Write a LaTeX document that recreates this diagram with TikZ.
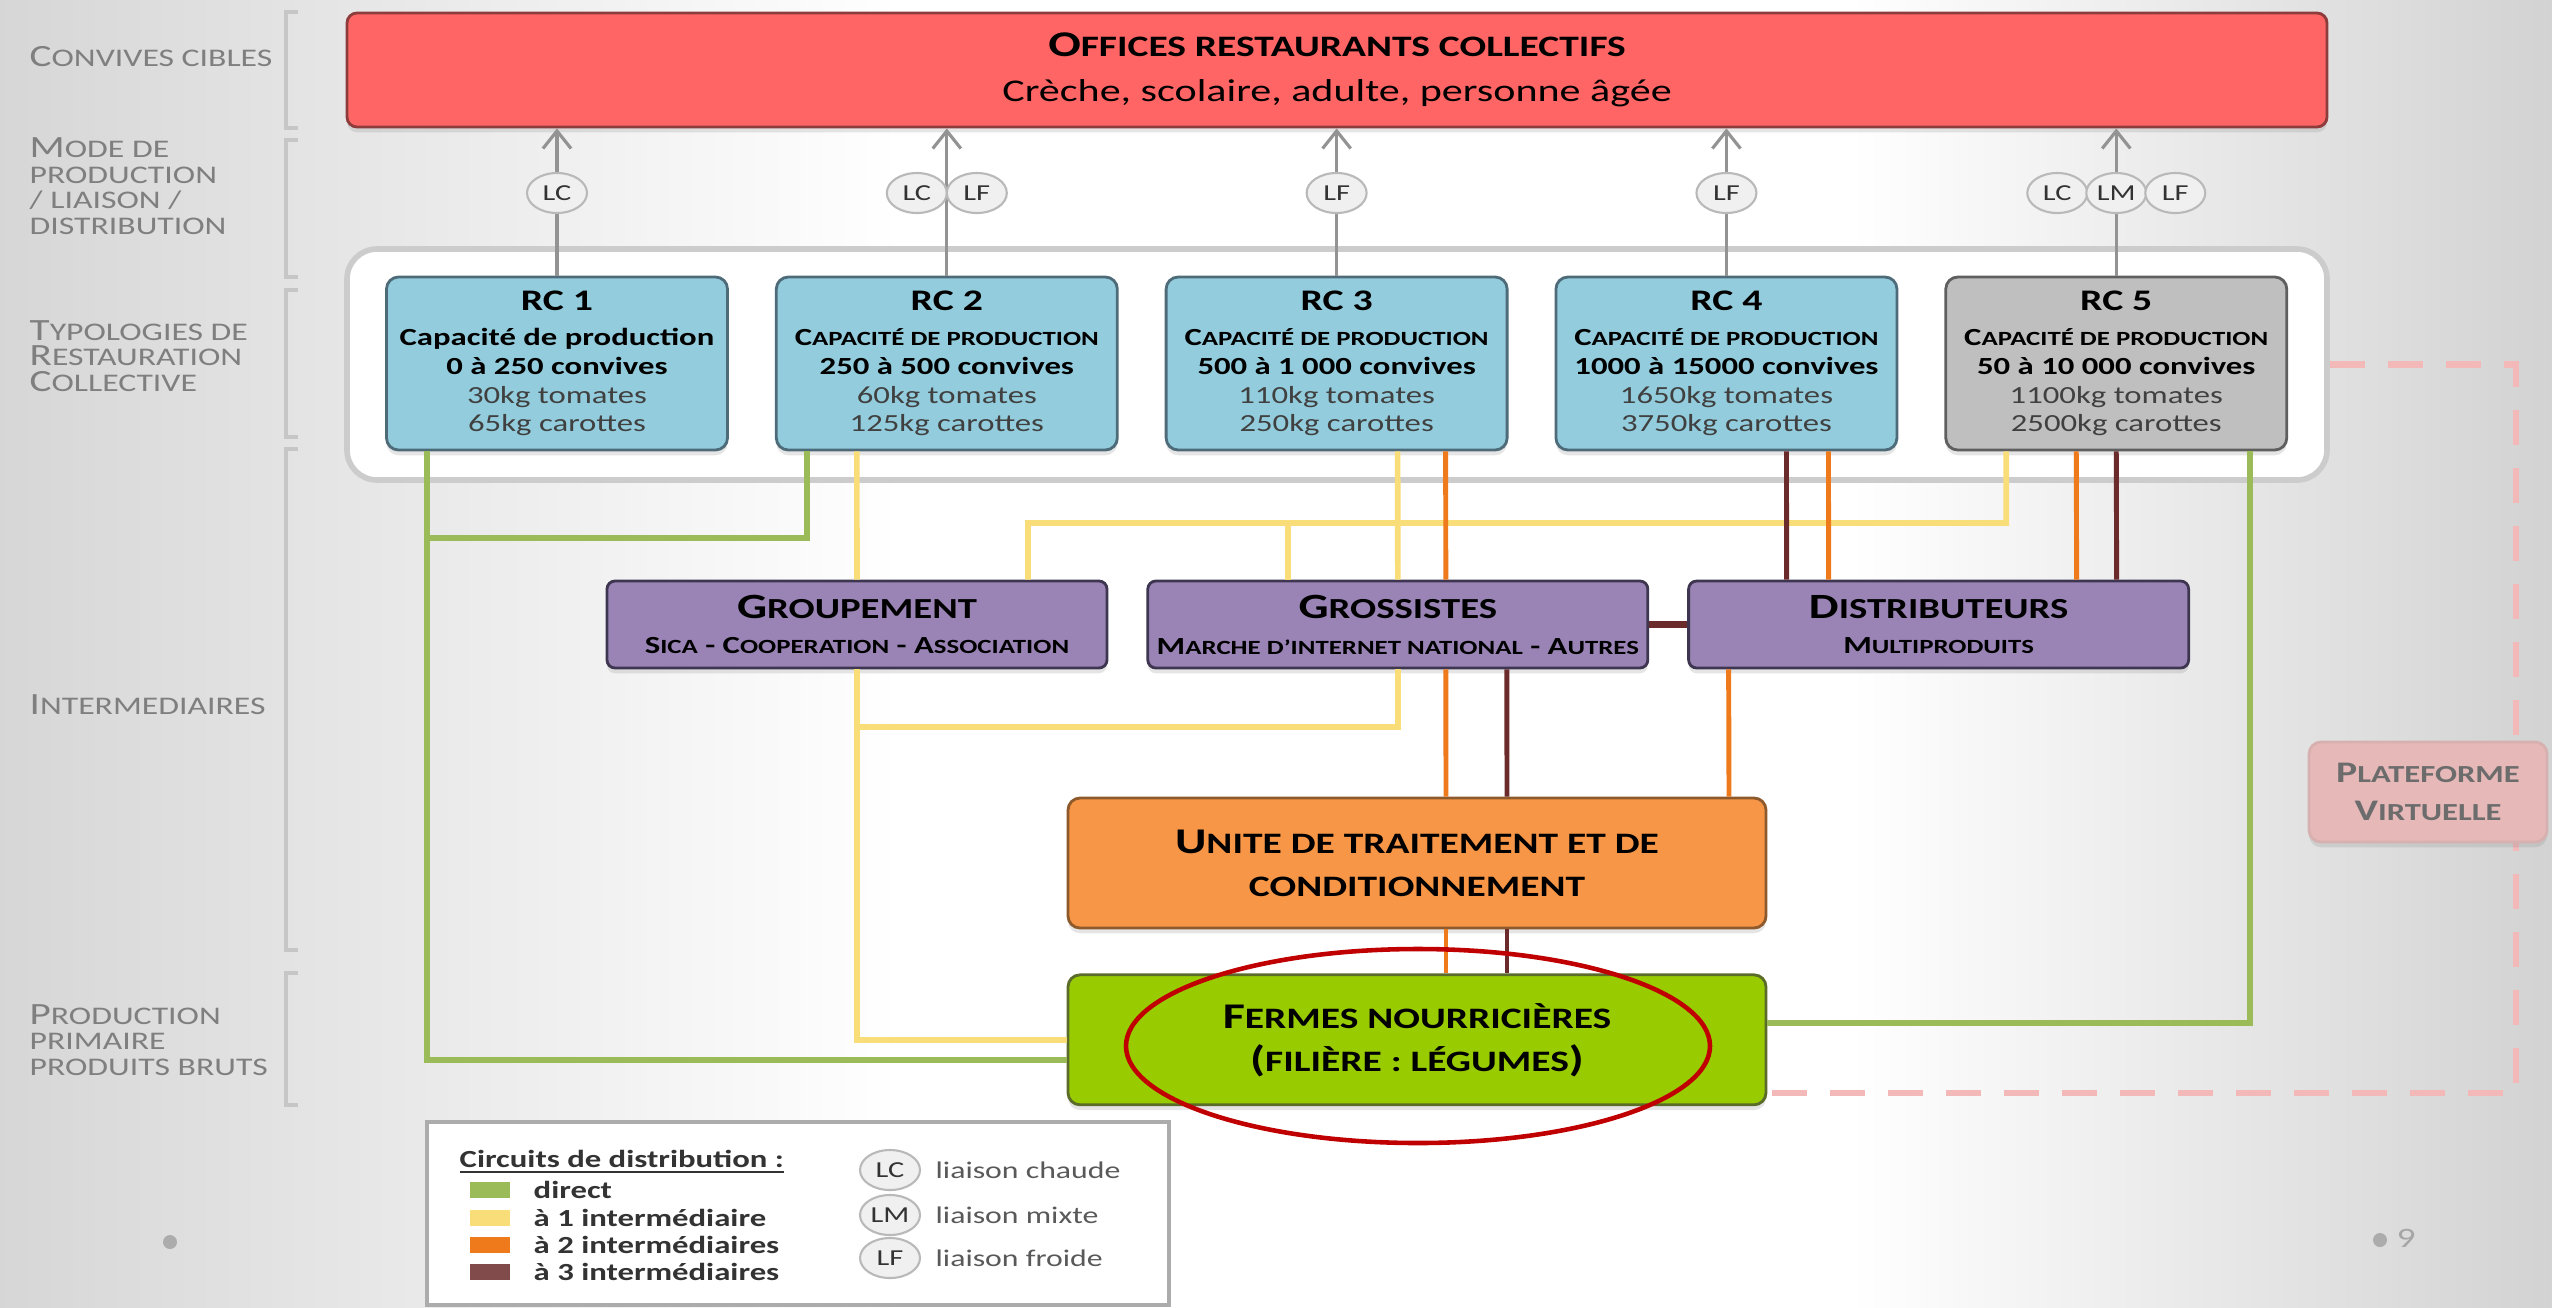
\documentclass[tikz,border=0pt]{standalone}
\usepackage{fontspec}
\setmainfont{Carlito}[FakeStretch=1.33]
\usepackage{graphicx}
\usepackage{xcolor}
\usetikzlibrary{arrows.meta, positioning, shapes.geometric, shadows}

\definecolor{officered}{HTML}{FF6565}
\definecolor{officeline}{HTML}{8E3B3B}
\definecolor{rcblue}{HTML}{93CDDD}
\definecolor{rcline}{HTML}{4D6B78}
\definecolor{rcgrey}{HTML}{BFBFBF}
\definecolor{rcgreyline}{HTML}{5F5F5F}
\definecolor{interpurple}{HTML}{9A84B6}
\definecolor{interline}{HTML}{3E3650}
\definecolor{uniteorange}{HTML}{F79646}
\definecolor{uniteline}{HTML}{8E5A2C}
\definecolor{fermegreen}{HTML}{99CC00}
\definecolor{fermeline}{HTML}{5A6B2A}
\definecolor{virtpink}{HTML}{E6B9B8}
\definecolor{dashpink}{HTML}{F3B8B8}
\definecolor{circgreen}{HTML}{9BBB59}
\definecolor{circyellow}{HTML}{F9DD78}
\definecolor{circorange}{HTML}{EE7A1C}
\definecolor{circbrown}{HTML}{6B2B2B}
\definecolor{labelgrey}{HTML}{7F7F7F}
\definecolor{ringred}{HTML}{C00000}

\newcommand{\petcap}[1]{\scalebox{0.82}{\MakeUppercase{#1}}}

\begin{document}
\begin{tikzpicture}[
        font=\fontsize{9}{10.8}\selectfont,
        >={Straight Barb[length=5pt,width=8pt]},
        box/.style={
            draw,
            line width=0.8pt,
            rounded corners=0.12cm,
            align=center,
            inner sep=2pt,
            drop shadow={opacity=0.2, shadow xshift=0pt, shadow yshift=-1.5pt}
        },
        rcbox/.style={
            box,
            fill=rcblue,
            draw=rcline,
            minimum width=3.41cm,
            minimum height=1.73cm,
            font=\fontsize{7}{8.2}\selectfont
        },
        interbox/.style={
            box,
            fill=interpurple,
            draw=interline,
            rounded corners=0.08cm,
            inner xsep=1pt,
            minimum width=5cm,
            minimum height=0.87cm,
            font=\fontsize{10.1}{10.2}\selectfont\bfseries
        },
        bigbox/.style={
            box,
            minimum width=6.98cm,
            minimum height=1.30cm,
            font=\fontsize{10.3}{12.2}\selectfont\bfseries
        },
        badge/.style={
            ellipse,
            draw=gray!55,
            line width=0.6pt,
            fill=gray!12,
            minimum width=0.6cm,
            minimum height=0.4cm,
            inner sep=0pt,
            text=gray!40!black,
            font=\fontsize{6.5}{7}\selectfont
        },
        lab/.style={
            anchor=west,
            align=left,
            inner sep=0pt,
            text=labelgrey,
            font=\fontsize{8.8}{7.3}\selectfont
        },
        lgtext/.style={
            anchor=west,
            inner sep=0pt,
            text=black!80,
            font=\fontsize{7}{7.5}\selectfont\bfseries
        },
        lgnote/.style={
            anchor=west,
            inner sep=0pt,
            text=gray!70!black,
            font=\fontsize{6.8}{7.5}\selectfont
        },
        liaison/.style={->, draw=gray!85, line width=0.9pt},
        bracket/.style={draw=gray!45, line width=1.2pt},
        direct/.style={draw=circgreen, line width=1.6pt},
        oneinter/.style={draw=circyellow, line width=1.6pt},
        twointer/.style={draw=circorange, line width=1.4pt},
        threeinter/.style={draw=circbrown, line width=1.4pt},
        swatch/.style={line width=4.5pt},
        virtual/.style={draw=dashpink, line width=1.8pt, dash pattern=on 0.35cm off 0.23cm}
    ]

        \useasboundingbox (0,0) rectangle (25.52,-13.07);
        \shade[left color=gray!32, right color=white] (0,0) rectangle (9,-13.07);
        \fill[white] (9,0) rectangle (18.5,-13.07);
        \shade[left color=white, right color=gray!35] (18.5,0) rectangle (25.52,-13.07);

        \draw[bracket] (2.98,-0.12) -- (2.86,-0.12) -- (2.86,-1.28) -- (2.98,-1.28);
        \draw[bracket] (2.98,-1.40) -- (2.86,-1.40) -- (2.86,-2.77) -- (2.98,-2.77);
        \draw[bracket] (2.98,-2.90) -- (2.86,-2.90) -- (2.86,-4.37) -- (2.98,-4.37);
        \draw[bracket] (2.98,-4.49) -- (2.86,-4.49) -- (2.86,-9.50) -- (2.98,-9.50);
        \draw[bracket] (2.98,-9.73) -- (2.86,-9.73) -- (2.86,-11.05) -- (2.98,-11.05);

        \node[lab] (labconvives) at (0.29,-0.57) {C\petcap{onvives cibles}};
        \node[lab] (labmode) at (0.29,-1.86) {M\petcap{ode de}\\\petcap{production}\\\petcap{/ liaison /}\\\petcap{distribution}};
        \node[lab] (labtypo) at (0.29,-3.56) {T\petcap{ypologies de}\\R\petcap{estauration}\\C\petcap{ollective}};
        \node[lab] (labinter) at (0.29,-7.05) {I\petcap{ntermediaires}};
        \node[lab] (labprod) at (0.29,-10.40) {P\petcap{roduction}\\\petcap{primaire}\\\petcap{produits bruts}};

        \node[box, fill=officered, draw=officeline, minimum width=19.8cm, minimum height=1.14cm, rounded corners=0.1cm, font=\fontsize{9}{12.8}\selectfont] (offices) at (13.37,-0.70) {{\fontsize{10.3}{12.8}\selectfont\textbf{O\petcap{ffices restaurants collectifs}}}\\ Crèche, scolaire, adulte, personne âgée};

        \node[draw=gray!40, line width=1.6pt, fill=white, rounded corners=0.3cm, minimum width=19.8cm, minimum height=2.31cm] (rcgroup) at (13.37,-3.645) {};

        \node[rcbox] (rc1) at (5.57,-3.635) {{\fontsize{8.5}{9}\selectfont\textbf{RC 1}}\\[1.7pt] \textbf{Capacité de production}\\ \textbf{0 à 250 convives}\\ \textcolor{black!75}{30kg tomates}\\ \textcolor{black!75}{65kg carottes}};
        \node[rcbox, right=0.46cm of rc1] (rc2) {{\fontsize{8.5}{9}\selectfont\textbf{RC 2}}\\[1.7pt] \textbf{C\petcap{apacité de production}}\\ \textbf{250 à 500 convives}\\ \textcolor{black!75}{60kg tomates}\\ \textcolor{black!75}{125kg carottes}};
        \node[rcbox, right=0.46cm of rc2] (rc3) {{\fontsize{8.5}{9}\selectfont\textbf{RC 3}}\\[1.7pt] \textbf{C\petcap{apacité de production}}\\ \textbf{500 à 1 000 convives}\\ \textcolor{black!75}{110kg tomates}\\ \textcolor{black!75}{250kg carottes}};
        \node[rcbox, right=0.46cm of rc3] (rc4) {{\fontsize{8.5}{9}\selectfont\textbf{RC 4}}\\[1.7pt] \textbf{C\petcap{apacité de production}}\\ \textbf{1000 à 15000 convives}\\ \textcolor{black!75}{1650kg tomates}\\ \textcolor{black!75}{3750kg carottes}};
        \node[rcbox, fill=rcgrey, draw=rcgreyline, right=0.46cm of rc4] (rc5) {{\fontsize{8.5}{9}\selectfont\textbf{RC 5}}\\[1.7pt] \textbf{C\petcap{apacité de production}}\\ \textbf{50 à 10 000 convives}\\ \textcolor{black!75}{1100kg tomates}\\ \textcolor{black!75}{2500kg carottes}};

        \coordinate (badgerow) at (0,-1.93);
        \draw[liaison] (rc1.north) -- (rc1.north |- offices.south);
        \draw[liaison] (rc2.north) -- (rc2.north |- offices.south);
        \draw[liaison] (rc3.north) -- (rc3.north |- offices.south);
        \draw[liaison] (rc4.north) -- (rc4.north |- offices.south);
        \draw[liaison] (rc5.north) -- (rc5.north |- offices.south);
        \node[badge] (lc1) at (rc1.north |- badgerow) {LC};
        \node[badge, xshift=-0.3cm] (lc2) at (rc2.north |- badgerow) {LC};
        \node[badge, xshift=0.3cm] (lf2) at (rc2.north |- badgerow) {LF};
        \node[badge] (lf3) at (rc3.north |- badgerow) {LF};
        \node[badge] (lf4) at (rc4.north |- badgerow) {LF};
        \node[badge, xshift=-0.59cm] (lc5) at (rc5.north |- badgerow) {LC};
        \node[badge] (lm5) at (rc5.north |- badgerow) {LM};
        \node[badge, xshift=0.59cm] (lf5) at (rc5.north |- badgerow) {LF};

        \node[interbox] (groupement) at (8.57,-6.245) {G\petcap{roupement}\\{\fontsize{7}{8}\selectfont S\petcap{ica} - C\petcap{ooperation} - A\petcap{ssociation}}};
        \node[interbox, right=0.38cm of groupement] (grossistes) {G\petcap{rossistes}\\{\fontsize{7}{8}\selectfont M\petcap{arche d'internet national} - A\petcap{utres}}};
        \node[interbox, right=0.38cm of grossistes] (distributeurs) {D\petcap{istributeurs}\\{\fontsize{7}{8}\selectfont M\petcap{ultiproduits}}};

        \node[bigbox, fill=uniteorange, draw=uniteline] (unite) at (14.17,-8.63) {U\petcap{nite de traitement et de}\\\petcap{conditionnement}};
        \node[bigbox, fill=fermegreen, draw=fermeline, below=0.44cm of unite] (fermes) {F\petcap{ermes nourricières}\\(\petcap{filière : légumes})};

        \coordinate (gbus) at (4.27,-5.38);
        \coordinate (ybus) at (10.28,-5.23);
        \coordinate (ydrop) at (12.88,-5.23);
        \coordinate (ylow) at (8.57,-7.27);
        \coordinate (vline) at (25.16,-6);

        \draw[direct] ([xshift=-1.30cm]rc1.south) |- ([yshift=-0.20cm]fermes.west);
        \draw[direct] ([xshift=-1.40cm]rc2.south) |- (gbus);
        \draw[direct] ([xshift=1.34cm]rc5.south) |- ([yshift=0.17cm]fermes.east);

        \draw[oneinter] ([xshift=-0.90cm]rc2.south) -- (groupement.north);
        \draw[oneinter] (groupement.south) |- (fermes.west);
        \draw[oneinter] ([xshift=-1.10cm]rc5.south) |- (ybus) -- ([xshift=1.71cm]groupement.north);
        \draw[oneinter] (ydrop) -- (ydrop |- grossistes.north);
        \draw[oneinter] ([xshift=0.61cm]rc3.south) -- (grossistes.north);
        \draw[oneinter] (grossistes.south) |- (ylow);

        \draw[twointer] ([xshift=1.09cm]rc3.south) -- ([xshift=0.48cm]grossistes.north);
        \draw[twointer] ([xshift=0.48cm]grossistes.south) -- ([xshift=0.29cm]unite.north);
        \draw[twointer] ([xshift=0.29cm]unite.south) -- ([xshift=0.29cm]fermes.north);
        \draw[twointer] ([xshift=1.02cm]rc4.south) -- ([xshift=-1.10cm]distributeurs.north);
        \draw[twointer] ([xshift=-0.40cm]rc5.south) -- ([xshift=1.38cm]distributeurs.north);
        \draw[twointer] ([xshift=-2.10cm]distributeurs.south) -- ([xshift=3.12cm]unite.north);

        \draw[threeinter] ([xshift=0.60cm]rc4.south) -- ([xshift=-1.52cm]distributeurs.north);
        \draw[threeinter] (rc5.south) -- ([xshift=1.78cm]distributeurs.north);
        \draw[threeinter, line width=2pt] (grossistes.east) -- (distributeurs.west);
        \draw[threeinter] ([xshift=1.09cm]grossistes.south) -- ([xshift=0.90cm]unite.north);
        \draw[threeinter] ([xshift=0.90cm]unite.south) -- ([xshift=0.90cm]fermes.north);

        \draw[virtual] (rcgroup.east) -| (vline) |- ([yshift=-0.53cm]fermes.east);
        \node[box, fill=virtpink, draw=virtpink!85!gray, minimum width=2.38cm, minimum height=1cm, text=gray!85!black, font=\fontsize{8.5}{10.8}\selectfont\bfseries] (plateforme) at (24.28,-7.92) {P\petcap{lateforme}\\V\petcap{irtuelle}};

        \draw[ringred, line width=1.3pt] (14.18,-10.46) ellipse [x radius=2.92, y radius=0.97];

        \node[draw=gray!65, line width=1pt, fill=white, minimum width=7.42cm, minimum height=1.83cm] (legend) at (7.98,-12.135) {};
        \node[lgtext] (lgtitle) at (4.59,-11.62) {\underline{Circuits de distribution :}};
        \draw[swatch, circgreen] (4.70,-11.90) -- (5.10,-11.90);
        \draw[swatch, circyellow] (4.70,-12.18) -- (5.10,-12.18);
        \draw[swatch, circorange] (4.70,-12.45) -- (5.10,-12.45);
        \draw[swatch, circbrown!85] (4.70,-12.72) -- (5.10,-12.72);
        \node[lgtext] (lgdirect) at (5.33,-11.90) {direct};
        \node[lgtext] (lgone) at (5.33,-12.18) {à 1 intermédiaire};
        \node[lgtext] (lgtwo) at (5.33,-12.45) {à 2 intermédiaires};
        \node[lgtext] (lgthree) at (5.33,-12.72) {à 3 intermédiaires};
        \node[badge] (lglc) at (8.90,-11.70) {LC};
        \node[badge] (lglm) at (8.90,-12.15) {LM};
        \node[badge] (lglf) at (8.90,-12.58) {LF};
        \node[lgnote] (lgchaude) at (9.35,-11.70) {liaison chaude};
        \node[lgnote] (lgmixte) at (9.35,-12.15) {liaison mixte};
        \node[lgnote] (lgfroide) at (9.35,-12.58) {liaison froide};

        \fill[gray!65] (1.70,-12.42) circle (0.07);
        \fill[gray!65] (23.80,-12.40) circle (0.07);
        \node[text=gray!70, font=\fontsize{8}{9}\selectfont] (pagenum) at (24.06,-12.38) {9};

    \end{tikzpicture}
\end{document}
